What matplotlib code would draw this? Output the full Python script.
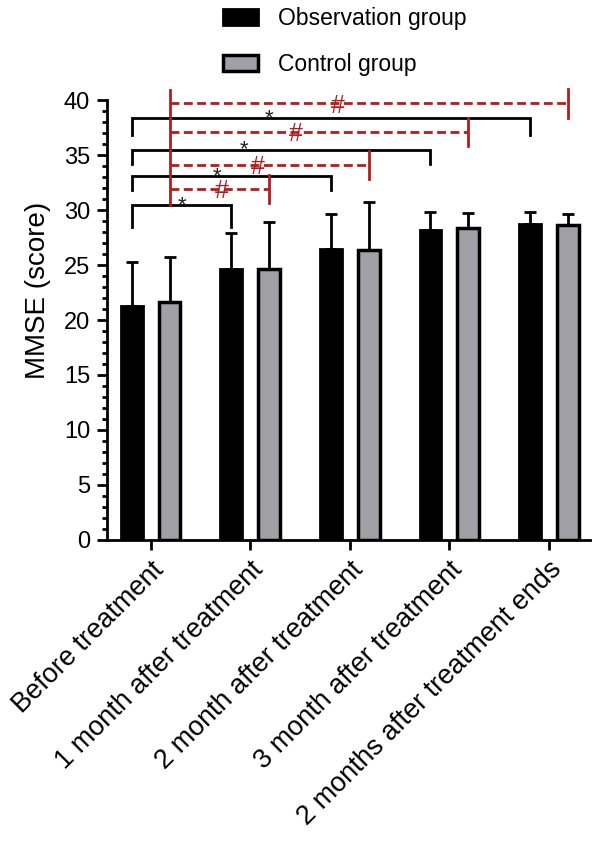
import matplotlib
matplotlib.use("Agg")
import matplotlib.pyplot as plt
import numpy as np
from matplotlib.ticker import MultipleLocator

plt.rcParams['font.family'] = ['Liberation Sans', 'DejaVu Sans']

categories = ["Before treatment", "1 month after treatment", "2 month after treatment",
              "3 month after treatment", "2 months after treatment ends"]
obs_mean = [21.3, 24.6, 26.5, 28.2, 28.7]
obs_sd = [4.0, 3.3, 3.1, 1.6, 1.15]
ctrl_mean = [21.6, 24.6, 26.4, 28.4, 28.6]
ctrl_sd = [4.1, 4.3, 4.3, 1.35, 1.0]

# significance brackets: (start group, end group, height, leg bottom)
obs_brackets = [(0, 1, 30.45, 28.5), (0, 2, 33.1, 31.8), (0, 3, 35.5, 34.2), (0, 4, 38.4, 36.8)]
ctrl_brackets = [(0, 1, 31.9), (0, 2, 34.1), (0, 3, 37.1), (0, 4, 39.7)]
star_x = [0.32, 0.67, 0.94, 1.19]
hash_x = [0.71, 1.08, 1.46, 1.88]

red = "#b01e1e"
fig = plt.figure(figsize=(6.0, 8.41), dpi=100)
ax = fig.add_axes([0.178, 0.358, 0.805, 0.523])

x = np.arange(len(categories))
off = 0.19
w = 0.22
ax.bar(x - off, obs_mean, w, color="black", edgecolor="black", linewidth=2,
       label="Observation group", zorder=2)
ax.bar(x + off, ctrl_mean, w, color="#a0a0a6", edgecolor="black", linewidth=2.5,
       label="Control group", zorder=2)
ax.errorbar(x - off, obs_mean, yerr=[np.zeros(5), obs_sd], fmt="none", ecolor="black",
            elinewidth=2, capsize=4.5, capthick=2, zorder=1)
ax.errorbar(x + off, ctrl_mean, yerr=[np.zeros(5), ctrl_sd], fmt="none", ecolor="black",
            elinewidth=2, capsize=4.5, capthick=2, zorder=1)

for (a, b, h, lb), sx in zip(obs_brackets, star_x):
    xa, xb = x[a] - off, x[b] - off
    ax.plot([xa, xa, xb, xb], [lb, h, h, lb], color="black", lw=2, clip_on=False,
            solid_joinstyle="miter")
    ax.text(sx, h - 0.55, "*", ha="center", va="baseline", fontsize=16, color="#222222")

# red dashed brackets
xl = x[0] + off
ax.plot([xl, xl], [obs_brackets[0][2], ctrl_brackets[-1][2] + 1.2], color=red, lw=2,
        clip_on=False)
for (a, b, h), hx in zip(ctrl_brackets, hash_x):
    xr = x[b] + off
    ax.plot([xl, xr], [h, h], color=red, lw=2, ls=(0, (3.2, 1.6)), clip_on=False)
    ax.plot([xr, xr], [h - 1.3, h + 1.3], color=red, lw=2, clip_on=False)
    ax.text(hx, h - 0.85, "#", color=red, fontsize=18, ha="center", va="baseline")

ax.set_xlim(-0.44, 4.41)
ax.set_ylim(0, 40)
ax.yaxis.set_major_locator(MultipleLocator(5))
ax.yaxis.set_minor_locator(MultipleLocator(1))
ax.spines['top'].set_visible(False)
ax.spines['right'].set_visible(False)
ax.spines['left'].set_linewidth(2)
ax.spines['bottom'].set_linewidth(2)
ax.tick_params(axis='y', which='major', length=7, width=2, labelsize=17, pad=5)
ax.tick_params(axis='y', which='minor', length=3.5, width=2)
ax.tick_params(axis='x', length=7, width=2, labelsize=19.5, pad=5)
ax.set_xticks(x)
ax.set_xticklabels(categories, rotation=45, ha="right", rotation_mode="anchor")
ax.set_ylabel("MMSE (score)", fontsize=20)
ax.yaxis.set_label_coords(-0.115, 0.568)

leg = fig.legend(loc="upper left", bbox_to_anchor=(0.372, 0.992), frameon=False, fontsize=16.5,
                 handlelength=1.5, handleheight=0.7, labelspacing=1.0,
                 borderpad=0, borderaxespad=0, handletextpad=0.9)

fig.savefig("out.png", dpi=100)
